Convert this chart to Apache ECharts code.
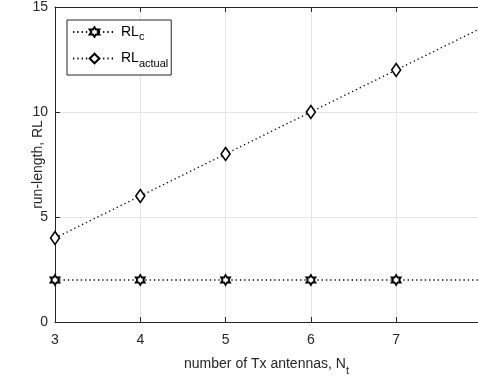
<!DOCTYPE html>
<html><head><meta charset="utf-8">
<script src="https://cdn.jsdelivr.net/npm/echarts@6/dist/echarts.min.js"></script>
<style>html,body{margin:0;padding:0;background:#fff}#c{width:478px;height:381px}</style>
</head><body><div id="c"></div>
<script>
var nt = [3, 4, 5, 6, 7, 8];
var rlC = [2, 2, 2, 2, 2, 2];
var rlActual = [4, 6, 8, 10, 12, 14];
var xTicks = [3, 4, 5, 6, 7];
var yTicks = [0, 5, 10, 15];

var hexagram = 'path://M0,-10 L2.887,-5 L8.66,-5 L5.774,0 L8.66,5 L2.887,5 L0,10 L-2.887,5 L-8.66,5 L-5.774,0 L-8.66,-5 L-2.887,-5 Z';
var font = 'Liberation Sans';
var txt = '#262626';

var chart = echarts.init(document.getElementById('c'));
function pairs(ys){ return nt.map(function(x,i){ return [x, ys[i]]; }); }
chart.setOption({
  animation: false,
  textStyle: {fontFamily: font},
  grid: {left: 55, right: 0, top: 7, bottom: 57, containLabel: false},
  legend: {
    left: 67, top: 20, orient: 'vertical',
    padding: [5, 3, 6, 5],
    itemGap: 9,
    itemWidth: 43, itemHeight: 12,
    backgroundColor: '#fff', borderColor: '#262626', borderWidth: 1,
    borderRadius: 0,
    textStyle: {color: '#000', fontFamily: font, fontSize: 14,
      rich: {
        a: {fontSize: 14, color: '#000', fontFamily: font},
        b: {fontSize: 11, color: '#000', fontFamily: font, padding: [10, 0, 0, 0]}
      }},
    formatter: function(n){ return n === 'RLc' ? '{a|RL}{b|c}' : '{a|RL}{b|actual}'; },
    data: ['RLc', 'RLactual']
  },
  xAxis: [{
    type: 'value', min: 3, max: 7.96, interval: 1,
    name: '{n|number of Tx antennas, N}{s|t}',
    nameLocation: 'middle', nameGap: 31, nameMoveOverlap: false,
    nameTextStyle: {color: txt, fontSize: 14, fontFamily: font,
      rich: {n: {fontSize: 14, color: txt, fontFamily: font},
        s: {fontSize: 11, color: txt, fontFamily: font, padding: [12, 0, 0, 0]}}},
    axisLine: {show: true, onZero: false, lineStyle: {color: txt, width: 1}},
    axisTick: {show: true, inside: true, length: 5, lineStyle: {color: txt}},
    axisLabel: {color: txt, fontSize: 14, margin: 11, fontFamily: font,
      formatter: function(v){ return xTicks.indexOf(v) >= 0 ? String(v) : ''; },
      showMaxLabel: false},
    splitLine: {show: true, lineStyle: {color: '#e6e6e6', width: 1}}
  }, {
    type: 'value', min: 3, max: 7.96, interval: 1, position: 'top',
    axisLine: {show: true, onZero: false, lineStyle: {color: txt, width: 1}},
    axisTick: {show: true, inside: true, length: 5, lineStyle: {color: txt}},
    axisLabel: {show: false}, splitLine: {show: false}
  }],
  yAxis: {
    type: 'value', min: 0, max: 15, interval: 5,
    name: 'run-length, RL', nameLocation: 'middle', nameGap: 10, nameMoveOverlap: false,
    nameTextStyle: {color: txt, fontSize: 14, fontFamily: font},
    axisLine: {show: true, onZero: false, lineStyle: {color: txt, width: 1}},
    axisTick: {show: true, inside: true, length: 5, lineStyle: {color: txt}},
    axisLabel: {color: txt, fontSize: 14, margin: 7, fontFamily: font,
      formatter: function(v){ return yTicks.indexOf(v) >= 0 ? String(v) : ''; }},
    splitLine: {show: true, lineStyle: {color: '#e6e6e6', width: 1}}
  },
  series: [{
    name: 'RLc', type: 'line', data: pairs(rlC),
    symbol: hexagram, symbolSize: [9, 10],
    itemStyle: {color: '#fff', borderColor: '#000', borderWidth: 1.8},
    lineStyle: {color: '#000', width: 1.3, type: [1.3, 3]},
    z: 3
  }, {
    name: 'RLactual', type: 'line', data: pairs(rlActual),
    symbol: 'diamond', symbolSize: [9, 13],
    itemStyle: {color: '#fff', borderColor: '#000', borderWidth: 1.6},
    lineStyle: {color: '#000', width: 1.3, type: [1.3, 3]},
    z: 3
  }]
});
</script>
</body></html>
